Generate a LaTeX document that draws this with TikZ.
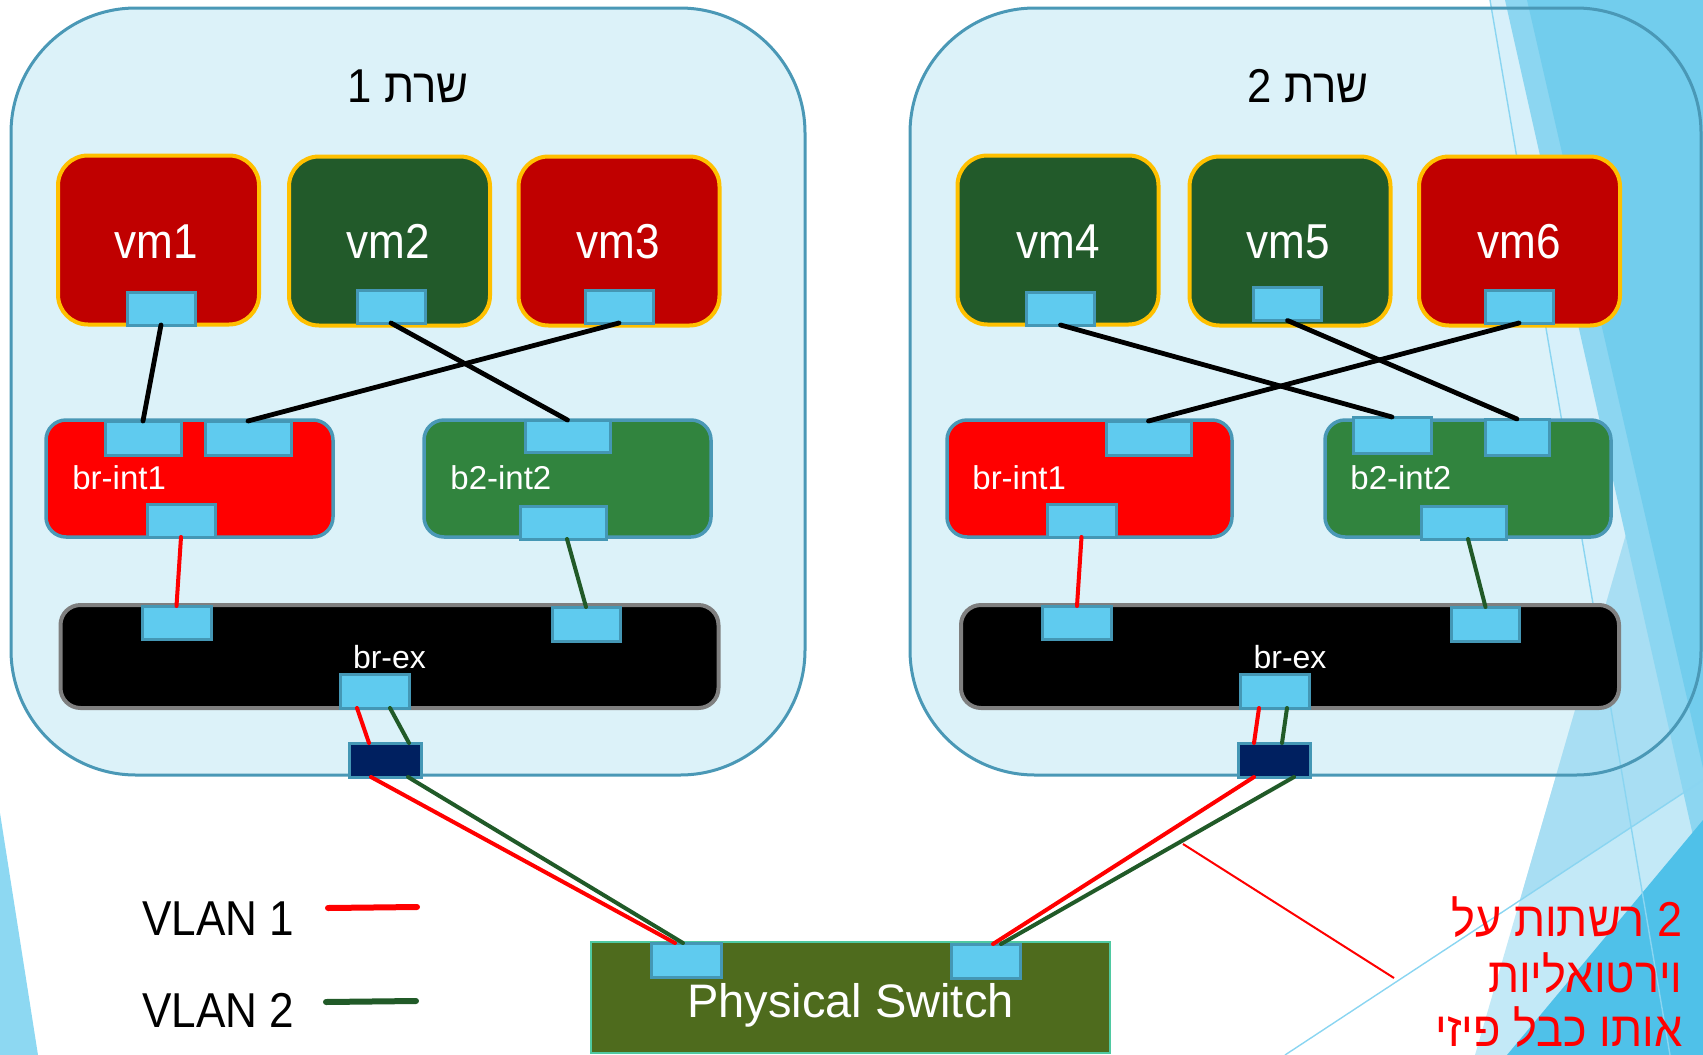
\documentclass[tikz,border=0pt]{standalone}
\usepackage{fontspec}
\setmainfont{Liberation Sans}
\newfontfamily\narrowfont[FakeStretch=0.9]{Liberation Sans}
\newfontfamily\hebfont[Script=Hebrew,FakeStretch=0.92]{Liberation Sans}
\TeXXeTstate=1
\usetikzlibrary{calc}

\definecolor{srvfill}{HTML}{DCF2F9}
\definecolor{srvline}{HTML}{4A98B6}
\definecolor{vmred}{HTML}{C00000}
\definecolor{vmgreen}{HTML}{225A2A}
\definecolor{vmgold}{HTML}{FFC000}
\definecolor{brred}{HTML}{FF0000}
\definecolor{brgreen}{HTML}{31843E}
\definecolor{portfill}{HTML}{5FCBEF}
\definecolor{portline}{HTML}{4497B5}
\definecolor{nicfill}{HTML}{002060}
\definecolor{swfill}{HTML}{4E6B1D}
\definecolor{swline}{HTML}{4FC9A1}
\definecolor{vlangreen}{HTML}{215A28}
\definecolor{brexline}{HTML}{7F7F7F}
\definecolor{decoA}{HTML}{D7F0FA}
\definecolor{decoB}{HTML}{C3E9F7}
\definecolor{decoC}{HTML}{A8DEF3}
\definecolor{decoD}{HTML}{8CD6F1}
\definecolor{decoE}{HTML}{72CDED}
\definecolor{decoF}{HTML}{4FC1E9}
\definecolor{decoline}{HTML}{8AD5F1}
\definecolor{decoleft}{HTML}{8DD8F2}

\tikzset{
  sized/.style 2 args={minimum width=#1*0.5pt, minimum height=#2*0.5pt,
    inner sep=0pt, outer sep=0pt},
  server/.style={rectangle, rounded corners=62.5pt, fill=srvfill, draw=none},
  serverrim/.style={draw=srvline, line width=1.5pt, rounded corners=62.5pt},
  vmbox/.style={rectangle, rounded corners=15pt, draw=vmgold, line width=2pt,
    sized={201}{169}},
  bridge/.style={rectangle, rounded corners=10pt, draw=srvline, line width=1.75pt},
  brexbox/.style={rectangle, rounded corners=10pt, fill=black, draw=brexline,
    line width=2pt, sized={658}{103}},
  port/.style={rectangle, fill=portfill, draw=portline, line width=1.5pt},
  nic/.style={rectangle, fill=nicfill, draw=portline, line width=1.5pt,
    sized={72}{34}},
  switchbox/.style={rectangle, fill=swfill, draw=swline, line width=1pt},
  vmlabel/.style={anchor=base, text=white, inner sep=0pt,
    font=\narrowfont\fontsize{24.5}{24.5}\selectfont},
  brlabel/.style={anchor=base west, text=white, inner sep=0pt,
    font=\fontsize{16.5}{16.5}\selectfont},
  title/.style={anchor=base, inner sep=0pt, font=\hebfont\fontsize{23.75}{23.75}\selectfont},
  legend/.style={anchor=base west, inner sep=0pt,
    font=\narrowfont\fontsize{24.5}{24.5}\selectfont},
  note/.style={anchor=base east, inner sep=0pt, text=brred,
    font=\hebfont\fontsize{24.5}{24.5}\selectfont},
  wire/.style={line width=2.4pt, line cap=round},
  cred/.style={draw=brred, line width=2pt, line cap=round},
  cgreen/.style={draw=vlangreen, line width=2pt, line cap=round},
}

\begin{document}
\begin{tikzpicture}[x=0.5pt, y=-0.5pt]
\useasboundingbox (0,0) rectangle (1703,1055);
\clip (0,0) rectangle (1703,1055);

% ---------- server enclosures (fill) ----------
\node[server, sized={794}{767}] (srv1) at (408,391.5) {};
\node[server, sized={791}{767}] (srv2) at (1305.5,391.5) {};

% ---------- theme background shapes ----------
\fill[decoleft] (0,813) -- (38,1055) -- (0,1055) -- cycle;
\fill[decoA] (1490,0) -- (1703,0) -- (1703,1055) -- (1670,1055) -- cycle;
\fill[decoB] (1475,1055) -- (1703,1055) -- (1703,269) -- cycle;
\fill[decoC] (1520,900) -- (1703,780) -- (1703,269) -- cycle;
\fill[decoD] (1505,0) -- (1703,0) -- (1703,880) -- cycle;
\fill[decoE] (1527,0) -- (1703,0) -- (1703,768) -- cycle;
\fill[decoF] (1507,1055) -- (1703,1055) -- (1703,820) -- cycle;
\draw[decoline, line width=0.7pt] (1490,0) -- (1670,1055);
\draw[decoline, line width=0.7pt] (1285,1055) -- (1703,780);

% ---------- server enclosures (outline) ----------
\draw[serverrim] (srv1.north west) rectangle (srv1.south east);
\draw[serverrim] (srv2.north west) rectangle (srv2.south east);

% ---------- titles ----------
\node[title] (t1) at (408,102) {\beginR שרת 1\endR};
\node[title] (t2) at (1308,102) {\beginR שרת 2\endR};

% ---------- virtual machines ----------
\node[vmbox, fill=vmred]   (vm1) at (158.5,240) {};
\node[vmbox, fill=vmgreen] (vm2) at (389.5,241) {};
\node[vmbox, fill=vmred]   (vm3) at (619,241) {};
\node[vmbox, fill=vmgreen] (vm4) at (1058,240) {};
\node[vmbox, fill=vmgreen] (vm5) at (1290,241) {};
\node[vmbox, fill=vmred]   (vm6) at (1519.5,241) {};
\node[vmlabel] (vm1t) at (156,258) {vm1};
\node[vmlabel] (vm2t) at (388,258) {vm2};
\node[vmlabel] (vm3t) at (618,258) {vm3};
\node[vmlabel] (vm4t) at (1058,258) {vm4};
\node[vmlabel] (vm5t) at (1288,258) {vm5};
\node[vmlabel] (vm6t) at (1519,258) {vm6};
\node[port, sized={68}{33}] (vm1p) at (161,308.5) {};
\node[port, sized={68}{33}] (vm2p) at (391,306.5) {};
\node[port, sized={68}{33}] (vm3p) at (619,306.5) {};
\node[port, sized={68}{33}] (vm4p) at (1060.5,308.5) {};
\node[port, sized={68}{33}] (vm5p) at (1287.5,304) {};
\node[port, sized={68}{33}] (vm6p) at (1519,306.5) {};

% ---------- integration bridges ----------
\node[bridge, fill=brred,   sized={287}{117}] (bi1) at (189.5,478.5) {};
\node[bridge, fill=brgreen, sized={287}{117}] (bj1) at (567.5,478.5) {};
\node[bridge, fill=brred,   sized={285}{117}] (bi2) at (1089.5,478.5) {};
\node[bridge, fill=brgreen, sized={286}{117}] (bj2) at (1468,478.5) {};
\node[brlabel] (bi1t) at (72,489) {br-int1};
\node[brlabel] (bj1t) at (450,489) {b2-int2};
\node[brlabel] (bi2t) at (972,489) {br-int1};
\node[brlabel] (bj2t) at (1350,489) {b2-int2};
\node[port, sized={76}{34}] (bi1a) at (143,438) {};
\node[port, sized={86}{34}] (bi1b) at (248,438) {};
\node[port, sized={68}{33}] (bi1d) at (181,520.5) {};
\node[port, sized={85}{32}] (bj1a) at (567.5,436) {};
\node[port, sized={86}{33}] (bj1d) at (563,522.5) {};
\node[port, sized={85}{34}] (bi2a) at (1148.5,438) {};
\node[port, sized={69}{33}] (bi2d) at (1081.5,520.5) {};
\node[port, sized={78}{36}] (bj2a) at (1392,435) {};
\node[port, sized={64}{36}] (bj2b) at (1517,437) {};
\node[port, sized={85}{33}] (bj2d) at (1463.5,522.5) {};

% ---------- external bridges ----------
\node[brexbox] (bx1) at (389.5,656.5) {};
\node[brexbox] (bx2) at (1290,656.5) {};
\node[anchor=base, text=white, inner sep=0pt, font=\fontsize{16}{16}\selectfont]
  (bx1t) at (389.5,668) {br-ex};
\node[anchor=base, text=white, inner sep=0pt, font=\fontsize{16}{16}\selectfont]
  (bx2t) at (1290,668) {br-ex};
\node[port, sized={69}{33}] (bx1a) at (176.5,622.5) {};
\node[port, sized={68}{34}] (bx1b) at (586,624) {};
\node[port, sized={69}{34}] (bx1d) at (374.5,691) {};
\node[port, sized={69}{33}] (bx2a) at (1077,622.5) {};
\node[port, sized={68}{34}] (bx2b) at (1485.5,624) {};
\node[port, sized={69}{34}] (bx2d) at (1274.5,691) {};

% ---------- physical uplinks ----------
\node[nic] (nic1) at (385,760) {};
\node[nic] (nic2) at (1274.5,760) {};

% ---------- physical switch ----------
\node[switchbox, sized={519}{111}] (sw) at (850.5,997.5) {};
\node[anchor=base, text=white, inner sep=0pt,
  font=\fontsize{23.5}{23.5}\selectfont] (swt) at (850.5,1017) {Physical Switch};
\node[port, sized={70}{34}] (swa) at (686,960) {};
\node[port, sized={69}{34}] (swb) at (985.5,961) {};

% ---------- VM to bridge links ----------
\draw[wire] (vm1p.south) -- (bi1a.north);
\draw[wire] (vm3p.south) -- (bi1b.north);
\draw[wire] (vm2p.south) -- (bj1a.north);
\draw[wire] (vm4p.south) -- (bj2a.north);
\draw[wire] (vm5p.south) -- (bj2b.north);
\draw[wire] (vm6p.south) -- (bi2a.north);

% ---------- bridge to br-ex links ----------
\draw[cred]   (bi1d.south) -- (bx1a.north);
\draw[cgreen] ([xshift=2pt]bj1d.south) -- (bx1b.north);
\draw[cred]   (bi2d.south) -- (bx2a.north);
\draw[cgreen] ([xshift=2.25pt]bj2d.south) -- (bx2b.north);

% ---------- br-ex to uplink ----------
\draw[cred]   ([xshift=-8.75pt]bx1d.south) -- ([xshift=-8pt]nic1.north);
\draw[cgreen] ([xshift=7.75pt]bx1d.south) -- ([xshift=12pt]nic1.north);
\draw[cred]   ([xshift=-7.75pt]bx2d.south) -- ([xshift=-10.25pt]nic2.north);
\draw[cgreen] ([xshift=6.25pt]bx2d.south) -- ([xshift=3.75pt]nic2.north);

% ---------- uplink to switch ----------
\draw[cred]   ([xshift=-7pt]nic1.south) -- ([xshift=-5.5pt]swa.north);
\draw[cgreen] ([xshift=11.5pt]nic1.south) -- ([xshift=-1.5pt]swa.north);
\draw[cred]   ([xshift=-10.25pt]nic2.south) -- ([xshift=3.75pt]swb.north);
\draw[cgreen] ([xshift=9.75pt]nic2.south) -- ([xshift=7.75pt]swb.north);

% ---------- legend ----------
\node[legend] (lg1) at (142,935) {VLAN 1};
\node[legend] (lg2) at (142,1027) {VLAN 2};
\coordinate (lg1a) at (328,908);
\coordinate (lg1b) at (417,907);
\coordinate (lg2a) at (326,1002);
\coordinate (lg2b) at (416,1001);
\draw[draw=brred, line width=3pt, line cap=round] (lg1a) -- (lg1b);
\draw[draw=vlangreen, line width=3pt, line cap=round] (lg2a) -- (lg2b);

% ---------- annotation ----------
\node[note] (n1) at (1683,936) {\beginR 2 רשתות על\endR};
\node[note] (n2) at (1683,992) {\beginR וירטואליות\endR};
\node[note] (n3) at (1683,1046) {\beginR אותו כבל פיזי\endR};
\coordinate (ptra) at (1183,844);
\coordinate (ptrb) at (1394,978);
\draw[draw=brred, line width=1pt] (ptra) -- (ptrb);
\end{tikzpicture}
\end{document}
